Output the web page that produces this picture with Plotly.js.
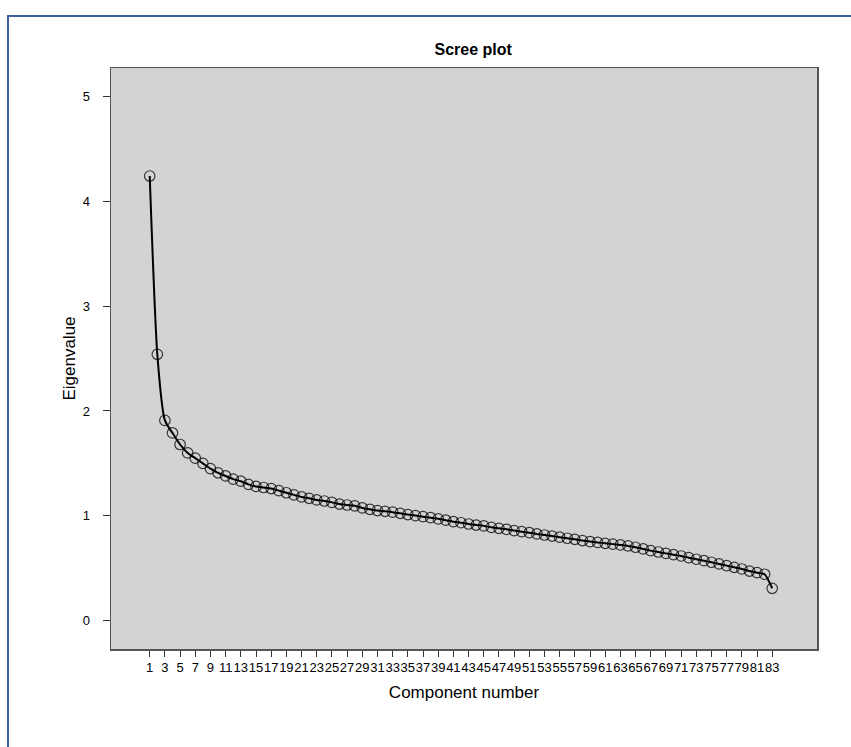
<!DOCTYPE html>
<html>
<head>
<meta charset="utf-8">
<script src="https://cdn.plot.ly/plotly-3.0.1.min.js"></script>
<style>
  html, body { margin: 0; padding: 0; background: #ffffff; }
  #wrap { position: relative; width: 851px; height: 747px; overflow: hidden; }
  #chart { position: absolute; left: 0; top: 0; width: 851px; height: 747px; }
  #frame { position: absolute; left: 7px; top: 15px; width: 860px; height: 760px;
           border-left: 2px solid #3f5fa3; border-top: 2px solid #3f5fa3; pointer-events: none; }
</style>
</head>
<body>
<div id="wrap">
  <div id="chart"></div>
  <div id="frame"></div>
</div>
<script>
const components = [1,2,3,4,5,6,7,8,9,10,11,12,13,14,15,16,17,18,19,20,
  21,22,23,24,25,26,27,28,29,30,31,32,33,34,35,36,37,38,39,40,
  41,42,43,44,45,46,47,48,49,50,51,52,53,54,55,56,57,58,59,60,
  61,62,63,64,65,66,67,68,69,70,71,72,73,74,75,76,77,78,79,80,
  81,82,83];
const eigenvalues = [4.24,2.54,1.91,1.79,1.68,1.60,1.55,1.50,1.45,1.41,
  1.38,1.35,1.33,1.30,1.28,1.27,1.26,1.24,1.22,1.20,
  1.18,1.167,1.151,1.141,1.128,1.112,1.103,1.095,1.075,1.062,
  1.050,1.043,1.035,1.024,1.012,1.002,0.992,0.982,0.971,0.958,
  0.944,0.934,0.922,0.912,0.904,0.890,0.881,0.871,0.859,0.849,
  0.839,0.827,0.817,0.807,0.796,0.786,0.776,0.764,0.754,0.746,
  0.738,0.730,0.722,0.713,0.700,0.684,0.668,0.655,0.642,0.629,
  0.617,0.601,0.586,0.572,0.557,0.541,0.525,0.509,0.493,0.473,
  0.458,0.443,0.309];
const xTickVals = [1,3,5,7,9,11,13,15,17,19,21,23,25,27,29,31,33,35,37,39,41,
  43,45,47,49,51,53,55,57,59,61,63,65,67,69,71,73,75,77,79,81,83];
const xTickText = ["1","3","5","7","9","11","13","15","17","19","21","23","25","27","29","31","33","35","37","39","41",
  "43","45","47","49","51","53","55","57","59","61","63","65","67","69","71","73","75","77","79","81","83"];
const yTickVals = [0,1,2,3,4,5];
const yTickText = ["0","1","2","3","4","5"];

const FONT = '"Liberation Sans", Arial, sans-serif';

const trace = {
  x: components,
  y: eigenvalues,
  type: 'scatter',
  mode: 'lines+markers',
  line: { color: '#000000', width: 2, shape: 'spline', smoothing: 0.6 },
  marker: { symbol: 'circle-open', size: 10.5, color: 'rgba(0,0,0,0.75)', line: { width: 1.2, color: 'rgba(0,0,0,0.75)' } },
  hoverinfo: 'x+y'
};

const layout = {
  width: 851, height: 747,
  margin: { l: 111, r: 34, t: 68, b: 98 },
  paper_bgcolor: '#ffffff',
  plot_bgcolor: '#d2d3d5',
  showlegend: false,
  font: { family: FONT, color: '#000000' },
  title: { text: '<b>Scree plot</b>', x: 0.513, xref: 'paper', xanchor: 'center', y: 1, yref: 'paper', yanchor: 'bottom', pad: { b: 13 },
           font: { family: FONT, size: 16, color: '#000000' } },
  xaxis: {
    range: [-4.1, 88.9],
    tickmode: 'array', tickvals: xTickVals, ticktext: xTickText,
    tickangle: 0,
    ticks: 'outside', ticklen: 6, tickwidth: 1, tickcolor: '#333333',
    tickfont: { family: FONT, size: 13, color: '#000000' },
    showgrid: false, zeroline: false,
    showline: true, mirror: true, linecolor: '#555555', linewidth: 1.5,
    title: { text: 'Component number', font: { family: FONT, size: 17, color: '#000000' }, standoff: 12 }
  },
  yaxis: {
    range: [-0.27, 5.27],
    tickmode: 'array', tickvals: yTickVals, ticktext: yTickText,
    ticks: 'outside', ticklen: 7, tickwidth: 1, tickcolor: '#333333',
    ticklabelstandoff: 10,
    tickfont: { family: FONT, size: 13, color: '#000000' },
    showgrid: false, zeroline: false,
    showline: true, mirror: true, linecolor: '#555555', linewidth: 1.5,
    title: { text: 'Eigenvalue', font: { family: FONT, size: 17, color: '#000000' }, standoff: 2 }
  }
};

Plotly.newPlot('chart', [trace], layout, { displayModeBar: false, staticPlot: true });
</script>
</body>
</html>
